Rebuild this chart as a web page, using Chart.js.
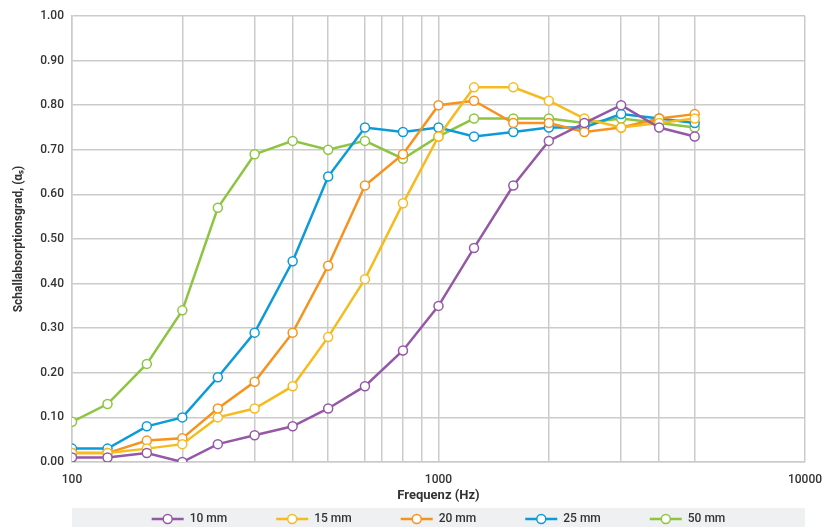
<!DOCTYPE html>
<html>
<head>
<meta charset="utf-8">
<script src="https://cdn.jsdelivr.net/npm/chart.js@4"></script>
<style>
  html, body { margin: 0; padding: 0; background: #fff; }
  #wrap { width: 823px; height: 527px; }
</style>
</head>
<body>
<div id="wrap"><canvas id="myChart"></canvas></div>
<script>
    // terzband frequencies (Hz)
    const freqs = [100, 125, 160, 200, 250, 315, 400, 500, 630, 800, 1000, 1250, 1600, 2000, 2500, 3150, 4000, 5000];
    const mm10 = [0.01, 0.01, 0.02, 0.00, 0.04, 0.06, 0.08, 0.12, 0.17, 0.25, 0.35, 0.48, 0.62, 0.72, 0.76, 0.80, 0.75, 0.73];
    const mm15 = [0.02, 0.02, 0.03, 0.04, 0.10, 0.12, 0.17, 0.28, 0.41, 0.58, 0.73, 0.84, 0.84, 0.81, 0.77, 0.75, 0.76, 0.77];
    const mm20 = [0.02, 0.02, 0.048, 0.053, 0.12, 0.18, 0.29, 0.44, 0.62, 0.69, 0.80, 0.81, 0.76, 0.76, 0.74, 0.75, 0.77, 0.78];
    const mm25 = [0.03, 0.03, 0.08, 0.10, 0.19, 0.29, 0.45, 0.64, 0.75, 0.74, 0.75, 0.73, 0.74, 0.75, 0.75, 0.78, 0.77, 0.76];
    const mm50 = [0.09, 0.13, 0.22, 0.34, 0.57, 0.69, 0.72, 0.70, 0.72, 0.68, 0.73, 0.77, 0.77, 0.77, 0.76, 0.77, 0.76, 0.75];
    const seriesNames = ['10 mm', '15 mm', '20 mm', '25 mm', '50 mm'];
    const seriesColors = ['#9558a6', '#f6bb1e', '#f7921e', '#0b9bd8', '#8dc540'];

    // vertical grid lines and the few that carry a label
    const gridFreqs = [100, 200, 315, 400, 500, 630, 700, 800, 900, 1000, 2000, 3150, 4000, 5000, 10000];
    const labelFreqs = [100, 1000, 10000];

    const allSeries = [mm10, mm15, mm20, mm25, mm50];

    const datasets = allSeries.map((vals, i) => ({
      label: seriesNames[i],
      data: freqs.map((f, j) => ({x: f, y: vals[j]})),
      borderColor: seriesColors[i],
      backgroundColor: '#ffffff',
      borderWidth: 2.5,
      pointRadius: 4.5,
      pointBorderWidth: 1.5,
      pointBackgroundColor: '#ffffff',
      pointBorderColor: seriesColors[i],
      tension: 0
    }));

    const textColor = '#333333';
    const gridColor = '#cbcbcb';

    // legend drawn in a grey band under the axis
    const bandLegend = {
      id: 'bandLegend',
      afterDraw(chart) {
        const {ctx, chartArea: {left, right}} = chart;
        const bandTop = chart.height - 19;
        ctx.save();
        ctx.fillStyle = '#eef0f1';
        ctx.fillRect(left, bandTop, right - left, 19);

        ctx.font = '500 12px Roboto';
        const lineLen = 32;
        const gap = 6;
        const spacing = 49;
        const widths = seriesNames.map(n => lineLen + gap + ctx.measureText(n).width);
        const total = widths.reduce((a, b) => a + b, 0) + spacing * (widths.length - 1);
        let x = (left + right) / 2 - total / 2;
        const y = bandTop + 11;

        seriesNames.forEach((name, i) => {
          ctx.strokeStyle = seriesColors[i];
          ctx.lineWidth = 2.5;
          ctx.beginPath();
          ctx.moveTo(x, y);
          ctx.lineTo(x + lineLen, y);
          ctx.stroke();
          ctx.beginPath();
          ctx.fillStyle = '#ffffff';
          ctx.lineWidth = 1.5;
          ctx.arc(x + lineLen / 2, y, 4.5, 0, Math.PI * 2);
          ctx.fill();
          ctx.stroke();

          ctx.fillStyle = textColor;
          ctx.textAlign = 'left';
          ctx.textBaseline = 'middle';
          ctx.fillText(name, x + lineLen + gap, y);
          x += widths[i] + spacing;
        });
        ctx.restore();
      }
    };

    const config = {
      type: 'line',
      data: {datasets},
      options: {
        responsive: true,
        maintainAspectRatio: false,
        animation: false,
        layout: {padding: {top: 16, right: 18, bottom: 23, left: 0}},
        plugins: {
          legend: {display: false},
          tooltip: {enabled: false}
        },
        scales: {
          x: {
            type: 'logarithmic',
            min: 100,
            max: 10000,
            afterBuildTicks(scale) {
              scale.ticks = gridFreqs.map(v => ({value: v}));
            },
            afterFit(scale) {
              scale.height = 42;
              scale.paddingRight = 0;
              scale.paddingLeft = 0;
            },
            ticks: {
              autoSkip: false,
              maxRotation: 0,
              color: textColor,
              padding: 11,
              font: {family: 'Roboto', size: 12, weight: '500'},
              callback: (v) => labelFreqs.includes(v) ? String(v) : ''
            },
            grid: {color: gridColor, lineWidth: 1.5, drawTicks: false},
            border: {color: gridColor, width: 1.5},
            title: {
              display: true,
              text: 'Frequenz (Hz)',
              color: textColor,
              font: {family: 'Roboto', size: 13, weight: 'bold'},
              padding: {top: 0, bottom: 0}
            }
          },
          y: {
            min: 0,
            max: 1,
            afterFit(scale) {
              scale.width = 72;
            },
            ticks: {
              stepSize: 0.1,
              color: textColor,
              padding: 8,
              font: {family: 'Roboto', size: 12, weight: '500'},
              callback: (v) => v.toFixed(2)
            },
            grid: {color: gridColor, lineWidth: 1.5, drawTicks: false},
            border: {color: gridColor, width: 1.5},
            title: {
              display: true,
              text: 'Schallabsorptionsgrad, (αₛ)',
              color: textColor,
              font: {family: 'Roboto', size: 12, weight: 'bold'},
              padding: {top: 12, bottom: 0}
            }
          }
        }
      },
      plugins: [bandLegend]
    };

    const myChart = new Chart(document.getElementById('myChart'), config);
</script>
</body>
</html>
